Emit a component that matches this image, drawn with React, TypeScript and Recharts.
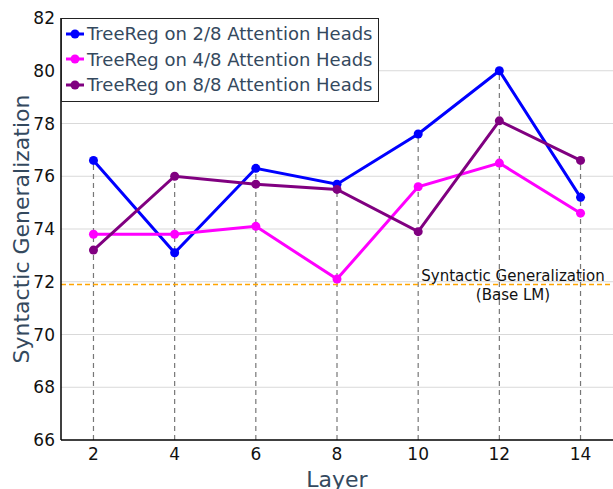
import { LineChart, Line, XAxis, YAxis, CartesianGrid, ReferenceLine, Label } from 'recharts';

const layers = [2, 4, 6, 8, 10, 12, 14];
const heads2 = [76.6, 73.1, 76.3, 75.7, 77.6, 80.0, 75.2];
const heads4 = [73.8, 73.8, 74.1, 72.1, 75.6, 76.5, 74.6];
const heads8 = [73.2, 76.0, 75.7, 75.5, 73.9, 78.1, 76.6];
const baseLM = 71.9;
const yTicks = [66, 68, 70, 72, 74, 76, 78, 80, 82];

const series = [
  { key: 'h2', name: 'TreeReg on 2/8 Attention Heads', color: '#0000ff' },
  { key: 'h4', name: 'TreeReg on 4/8 Attention Heads', color: '#ff00ff' },
  { key: 'h8', name: 'TreeReg on 8/8 Attention Heads', color: '#800080' },
];

const data = layers.map((layer, i) => ({ layer, h2: heads2[i], h4: heads4[i], h8: heads8[i] }));

const FONT = 'DejaVu Sans, sans-serif';
const LABEL = '#34495e';

// legend drawn as an overlay so it doesn't shrink the plot area
function LegendBox() {
  return (
    <div
      style={{
        position: 'absolute',
        left: 61,
        top: 18,
        border: '1px solid #222',
        background: '#fff',
        padding: '2px 5px 3px 3px',
        fontFamily: FONT,
      }}
    >
      {series.map((s) => (
        <div key={s.key} style={{ display: 'flex', alignItems: 'center', height: 25.5, fontSize: 18, color: LABEL, whiteSpace: 'nowrap' }}>
          <svg width={20} height={12} style={{ marginRight: 2 }}>
            <line x1={1} y1={6} x2={19} y2={6} stroke={s.color} strokeWidth={3} />
            <circle cx={10} cy={6} r={4.5} fill={s.color} />
          </svg>
          {s.name}
        </div>
      ))}
    </div>
  );
}

function BaseLabel(props: any) {
  const vb = props.viewBox;
  const cx = vb.x + vb.width - 100;
  return (
    <g fontFamily={FONT} fontSize={15} fill="#111" textAnchor="middle">
      <text x={cx} y={vb.y - 3}>Syntactic Generalization</text>
      <text x={cx} y={vb.y + 16}>(Base LM)</text>
    </g>
  );
}

export default function App() {
  return (
    <div style={{ position: 'absolute', left: 0, top: 0, width: 613, height: 489, background: '#fff' }}>
      <LineChart width={613} height={489} data={data} margin={{ top: 18, right: 0, bottom: 0, left: 0 }}>
        <CartesianGrid vertical={false} stroke="#d9d9d9" strokeWidth={1} horizontalValues={yTicks.slice(1, -1)} />
        <XAxis
          dataKey="layer"
          type="number"
          domain={[1.2, 14.8]}
          ticks={layers}
          height={49}
          tickSize={0}
          tickMargin={8}
          axisLine={{ stroke: '#000', strokeWidth: 1.5 }}
          tick={{ fill: '#111', fontSize: 17, fontFamily: FONT }}
        >
          <Label value="Layer" position="insideBottom" offset={2} style={{ fill: LABEL, fontSize: 22, fontFamily: FONT }} />
        </XAxis>
        <YAxis
          type="number"
          domain={[66, 82]}
          ticks={yTicks}
          width={61}
          tickSize={0}
          tickMargin={6}
          axisLine={{ stroke: '#000', strokeWidth: 1.5 }}
          tick={{ fill: '#111', fontSize: 17, fontFamily: FONT }}
        >
          <Label value="Syntactic Generalization" angle={-90} position="center" dx={-9} style={{ fill: LABEL, fontSize: 22, fontFamily: FONT, textAnchor: 'middle' }} />
        </YAxis>
        {layers.map((layer, i) => (
          <ReferenceLine
            key={layer}
            segment={[{ x: layer, y: 66 }, { x: layer, y: Math.max(heads2[i], heads4[i], heads8[i]) }]}
            stroke="#777"
            strokeWidth={1.2}
            strokeDasharray="5 4"
          />
        ))}
        <ReferenceLine y={baseLM} stroke="#ffa500" strokeWidth={1.5} strokeDasharray="5 3" label={<BaseLabel />} />
        {series.map((s) => (
          <Line
            key={s.key}
            dataKey={s.key}
            name={s.name}
            type="linear"
            stroke={s.color}
            strokeWidth={3}
            dot={{ r: 4.5, fill: s.color, stroke: s.color, strokeWidth: 0 }}
            isAnimationActive={false}
          />
        ))}
      </LineChart>
      <LegendBox />
    </div>
  );
}
